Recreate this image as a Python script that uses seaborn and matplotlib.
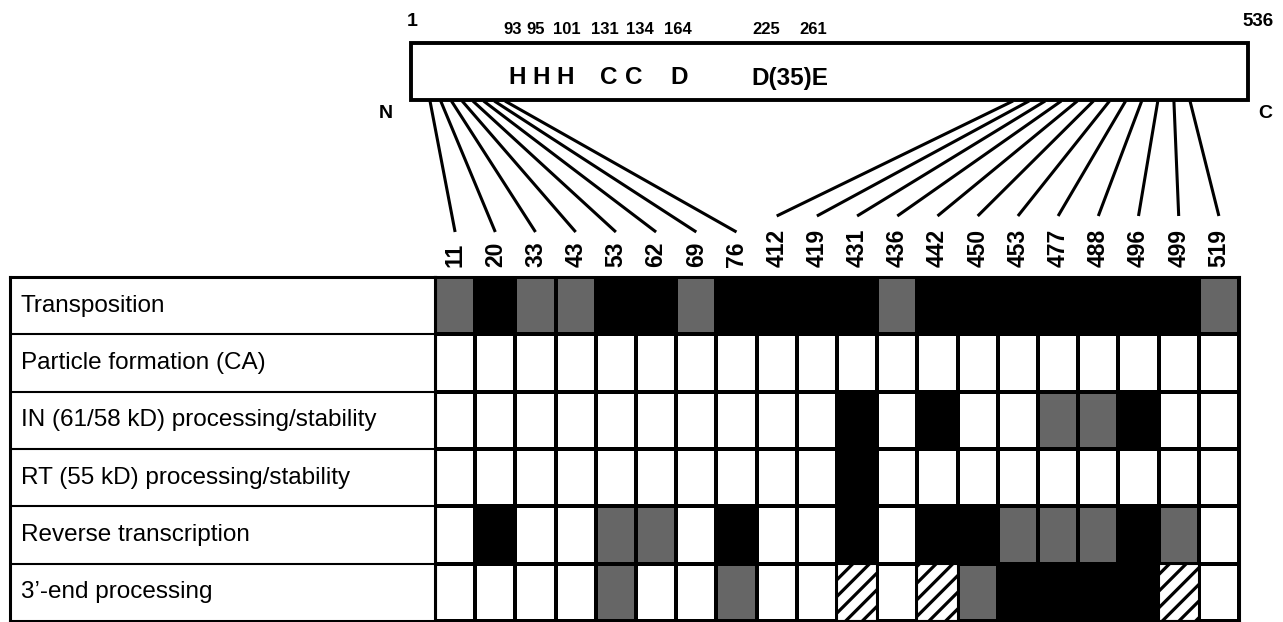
import numpy as np
import pandas as pd
import matplotlib
matplotlib.use('Agg')
import matplotlib.pyplot as plt
from matplotlib.colors import ListedColormap
from matplotlib.patches import Rectangle
import seaborn as sns

# %%
# mutation positions (columns) and assays (rows)
positions = [11, 20, 33, 43, 53, 62, 69, 76, 412, 419, 431, 436, 442, 450, 453, 477, 488, 496, 499, 519]
assays = ['Transposition', 'Particle formation (CA)', 'IN (61/58 kD) processing/stability',
          'RT (55 kD) processing/stability', 'Reverse transcription', "3\u2019-end processing"]

# 0 = wild type, 1 = partial defect (grey), 2 = defective (black), 3 = hatched
transposition = [1, 2, 1, 1, 2, 2, 1, 2, 2, 2, 2, 1, 2, 2, 2, 2, 2, 2, 2, 1]
particle = [0] * 20
in_processing = [0, 0, 0, 0, 0, 0, 0, 0, 0, 0, 2, 0, 2, 0, 0, 1, 1, 2, 0, 0]
rt_processing = [0, 0, 0, 0, 0, 0, 0, 0, 0, 0, 2, 0, 0, 0, 0, 0, 0, 0, 0, 0]
reverse_tx = [0, 2, 0, 0, 1, 1, 0, 2, 0, 0, 2, 0, 2, 2, 1, 1, 1, 2, 1, 0]
end_processing = [0, 0, 0, 0, 1, 0, 0, 1, 0, 0, 3, 0, 3, 1, 2, 2, 2, 2, 3, 0]

# protein schematic
protein_length = 536
site_residues = [93, 95, 101, 131, 134, 164, 225, 261]
site_letters = ['H', 'H', 'H', 'C', 'C', 'D', 'D(35)E']

# %%
sns.set_style('white')
plt.rcParams['font.family'] = ['Liberation Sans', 'DejaVu Sans']
plt.rcParams['text.color'] = 'black'
plt.rcParams['xtick.color'] = 'black'
plt.rcParams['hatch.linewidth'] = 2.3

W, H = 1283, 622
fig = plt.figure(figsize=(W / 100, H / 100), dpi=100)

def frac(x0, y0, x1, y1):
    return [x0 / W, 1 - y1 / H, (x1 - x0) / W, (y1 - y0) / H]

# overlay axes in pixel units for the schematic
ax_top = fig.add_axes([0, 0, 1, 1])
ax_top.set_xlim(0, W)
ax_top.set_ylim(H, 0)
ax_top.axis('off')

grid_l, grid_r, grid_t, grid_b = 435, 1239, 277, 621
ax = fig.add_axes(frac(grid_l, grid_t, grid_r, grid_b))
ax_lab = fig.add_axes(frac(9.5, grid_t, grid_l, grid_b))

df = pd.DataFrame([transposition, particle, in_processing, rt_processing, reverse_tx, end_processing],
                  index=assays, columns=[str(p) for p in positions])

cmap = ListedColormap(['white', '#666666', 'black', 'white'])
sns.heatmap(df, ax=ax, cmap=cmap, vmin=-0.5, vmax=3.5, cbar=False,
            linewidths=1.5, linecolor='black', yticklabels=False)

for i, j in zip(*np.where(df.values == 3)):
    ax.add_patch(Rectangle((j, i), 1, 1, facecolor='white', edgecolor='black',
                           hatch='//', linewidth=1.5))

ax.xaxis.tick_top()
ax.tick_params(axis='x', length=0, pad=7, colors='black')
plt.setp(ax.get_xticklabels(), rotation=90, fontsize=16.5, fontweight='bold', color='black')
ax.set_xlabel('')
ax.set_ylabel('')
for s in ax.spines.values():
    s.set_visible(True)
    s.set_linewidth(2.2)
    s.set_color('black')

# row label column
ax_lab.set_xlim(0, 1)
ax_lab.set_ylim(len(assays), 0)
ax_lab.set_xticks([])
ax_lab.set_yticks([])
for k in range(1, len(assays)):
    ax_lab.axhline(k, color='black', lw=1.5)
for k, name in enumerate(assays):
    ax_lab.text(0.026, k + 0.5, name, va='center', ha='left', fontsize=17.5, color='black')
for s in ax_lab.spines.values():
    s.set_visible(True)
    s.set_linewidth(2.2)
    s.set_color('black')

# %%
# protein box
box_l, box_r, box_t, box_b = 411, 1248, 43, 100
ax_top.add_patch(Rectangle((box_l, box_t), box_r - box_l, box_b - box_t,
                           facecolor='white', edgecolor='black', linewidth=2.8))
ax_top.text(box_l + 1, 22, '1', ha='center', va='center', fontsize=14, fontweight='bold')
ax_top.text(1258, 22, str(protein_length), ha='center', va='center', fontsize=13.5, fontweight='bold')
ax_top.text(386, 113, 'N', ha='center', va='center', fontsize=14, fontweight='bold')
ax_top.text(1265, 113, 'C', ha='center', va='center', fontsize=14, fontweight='bold')

num_x = [513, 536, 567, 605, 640, 678, 766, 813]
for x, r in zip(num_x, site_residues):
    ax_top.text(x, 29, str(r), ha='center', va='center', fontsize=12, fontweight='bold')
letter_x = [517, 541, 565, 609, 634, 679, 790]
for x, l in zip(letter_x, site_letters):
    ax_top.text(x, 78, l, ha='center', va='center', fontsize=17.5, fontweight='bold')

# connector lines from the box to each column
to_px = ax.transData + ax_top.transData.inverted()
n_left = sum(p < 300 for p in positions)
starts = list(np.linspace(430, 505, n_left)) + list(np.linspace(1013, 1190, len(positions) - n_left))
for j, p in enumerate(positions):
    cx = to_px.transform((j + 0.5, 0))[0]
    end_y = 232 if len(str(p)) == 2 else 216
    ax_top.plot([starts[j], cx], [box_b + 1, end_y], color='black', lw=2.2, solid_capstyle='butt')

fig.savefig('out.png', dpi=100)
